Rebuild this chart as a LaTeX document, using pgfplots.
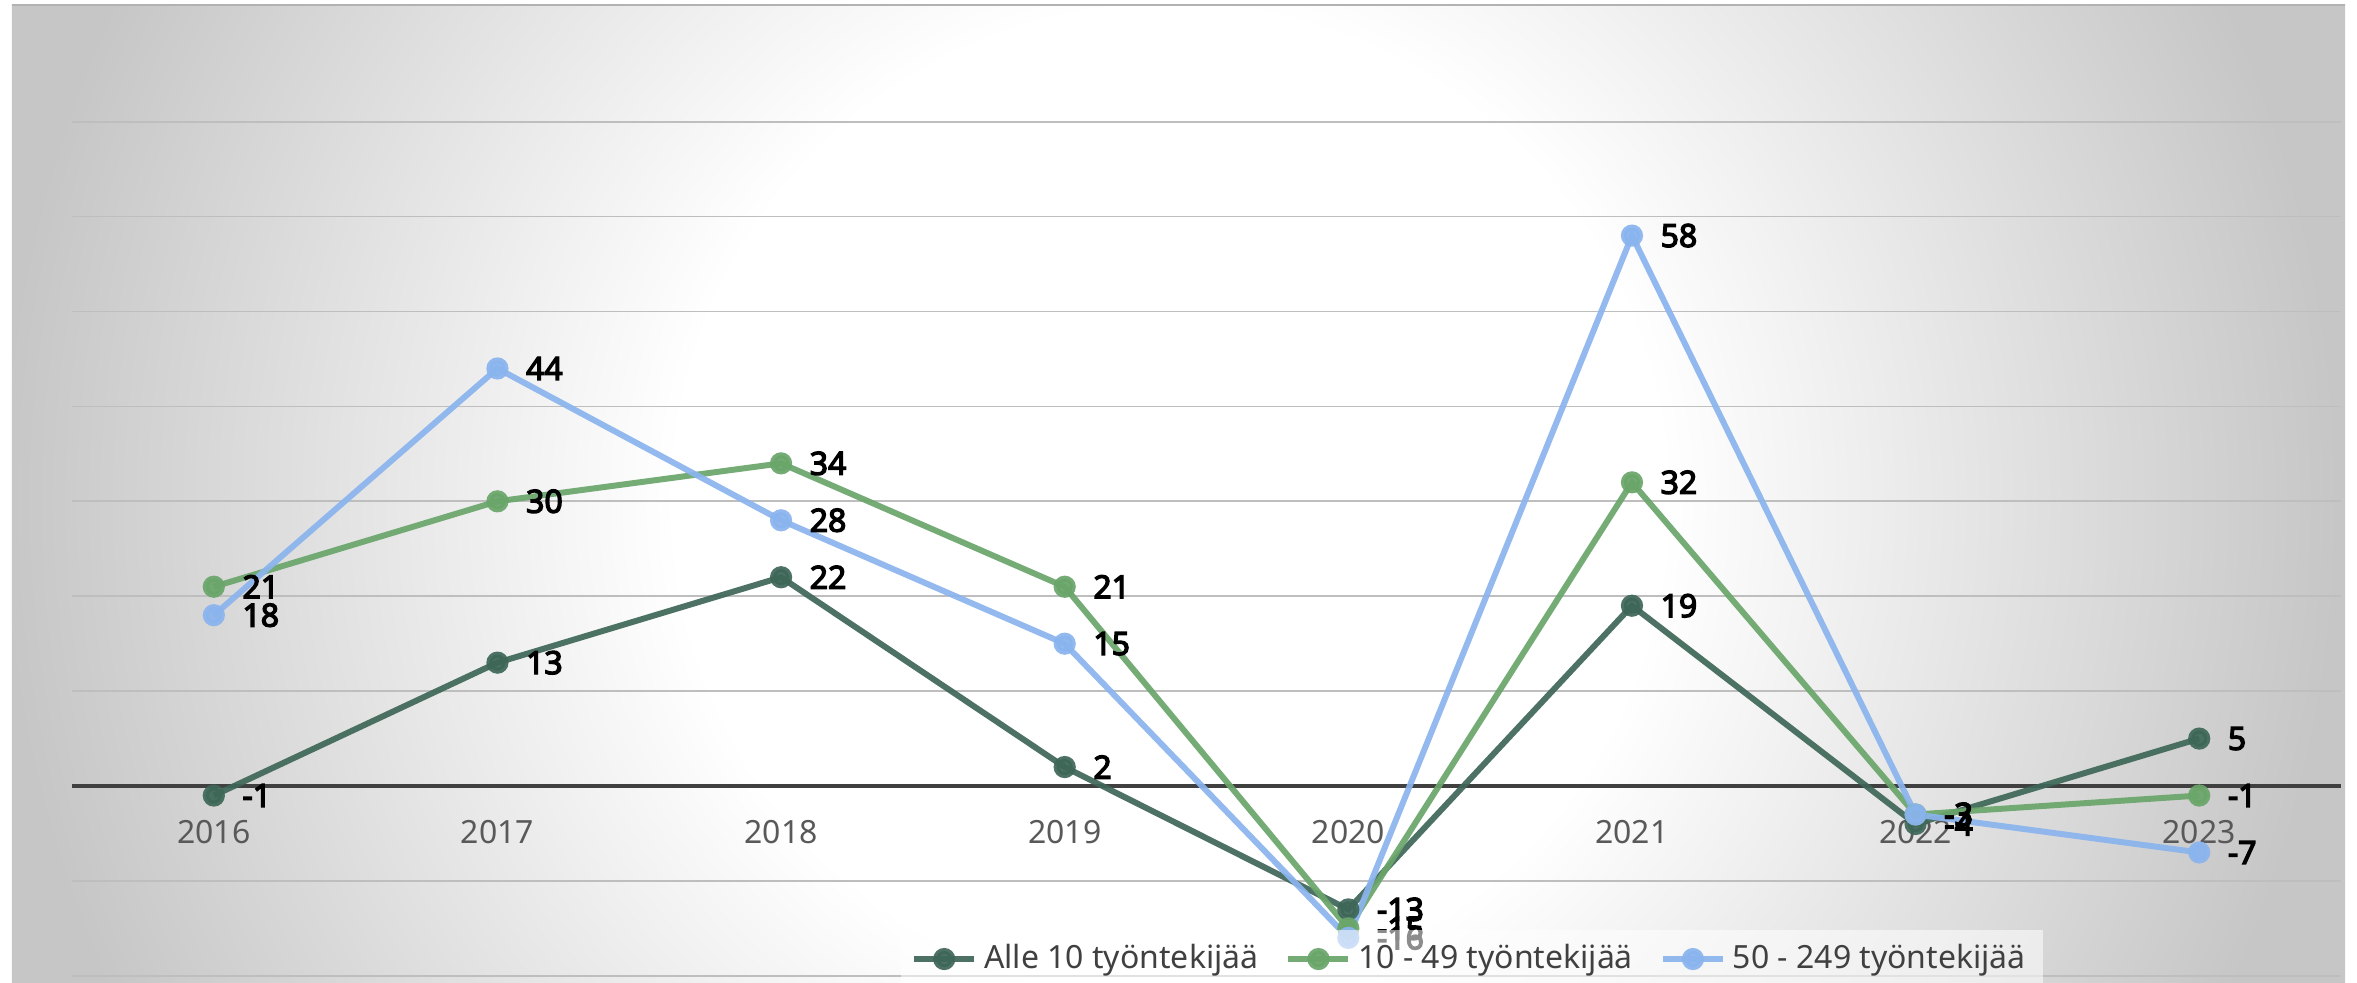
\documentclass[border=0pt]{standalone}
\usepackage{fontspec}
\setmainfont{Noto Sans}[BoldFont={Noto Sans}, BoldFeatures={FakeBold=4}]
\usepackage{pgfplots}
\usepackage{pgfplotstable}
\pgfplotsset{compat=1.18}
\usetikzlibrary{backgrounds}

\definecolor{cA}{RGB}{62,103,88}
\definecolor{cB}{RGB}{106,165,106}
\definecolor{cC}{RGB}{138,180,238}
\definecolor{bgedge}{RGB}{198,198,198}
\definecolor{gridc}{RGB}{190,190,190}
\definecolor{ticktext}{RGB}{89,89,89}
\definecolor{legtext}{RGB}{64,64,64}

% tikz maps 25bp to the edge of the shaded circle
\pgfdeclareradialshading{chartbg}{\pgfpoint{0bp}{0bp}}{color(0bp)=(white); color(9.5bp)=(white); color(22.5bp)=(bgedge); color(50bp)=(bgedge)}

% year index, Alle 10 / 10-49 / 50-249
\pgfplotstableread{
x a b c
0 -1 21 18
1 13 30 44
2 22 34 28
3 2 21 15
4 -13 -15 -16
5 19 32 58
6 -4 -3 -3
7 5 -1 -7
}\datatable

\begin{document}
\begin{tikzpicture}
\begin{axis}[
  name=ax,
  scale only axis,
  width=22.69cm, height=9.77cm,
  xmin=-0.5, xmax=7.5, ymin=-20.65, ymax=82.3,
  enlargelimits=false,
  axis x line=middle, axis y line*=left,
  x axis line style={-, line width=1.4pt, draw=black!75},
  y axis line style={draw=none},
  xtick={0,...,7},
  xticklabels={2016,2017,2018,2019,2020,2021,2022,2023},
  major tick length=0pt,
  xticklabel style={font=\fontsize{9.1}{11}\selectfont, text=ticktext, yshift=-0.22cm},
  ytick={-20,-10,...,70}, yticklabels={},
  ymajorgrids,
  grid style={draw=gridc, line width=0.5pt},
  every axis plot/.append style={line width=1.7pt, mark=*, mark size=2.3pt, draw opacity=0.92, fill opacity=0.92},
  nodes near coords={\textbf{\pgfplotspointmeta}},
  point meta=explicit symbolic,
  nodes near coords style={anchor=west, xshift=0.14cm, font=\fontsize{9.1}{11}\selectfont\bfseries, text=black, text opacity=1},
  legend columns=3,
  legend style={at={(0.617,0.0235)}, anchor=center, fill=white, fill opacity=0.55, text opacity=1, draw=none,
    font=\fontsize{9.1}{11}\selectfont, text=legtext,
    /tikz/every even column/.append style={column sep=0.2cm}},
]
\addplot[color=cA] table[x=x, y=a, meta=a] {\datatable};
\addlegendentry{Alle 10 työntekijää}
\addplot[color=cB] table[x=x, y=b, meta=b] {\datatable};
\addlegendentry{10 - 49 työntekijää}
\addplot[color=cC] table[x=x, y=c, meta=c] {\datatable};
\addlegendentry{50 - 249 työntekijää}
\coordinate (bgc) at (axis cs:3.37,30);
\end{axis}
\begin{scope}[on background layer]
  \fill[white] ([xshift=-0.72cm]ax.south west) rectangle ([xshift=0.16cm,yshift=0.05cm]ax.north east);
  \begin{scope}
    \clip ([xshift=-0.6cm]ax.south west) rectangle ([xshift=0.04cm]ax.north east);
    \shade[shading=chartbg] (bgc) circle (13cm);
  \end{scope}
  \draw[black!30, line width=0.6pt] ([xshift=-0.6cm]ax.north west) -- ([xshift=0.04cm]ax.north east);
\end{scope}
\pgfresetboundingbox
\path ([xshift=-0.72cm]ax.south west) rectangle ([xshift=0.16cm,yshift=0.05cm]ax.north east);
\end{tikzpicture}
\end{document}
